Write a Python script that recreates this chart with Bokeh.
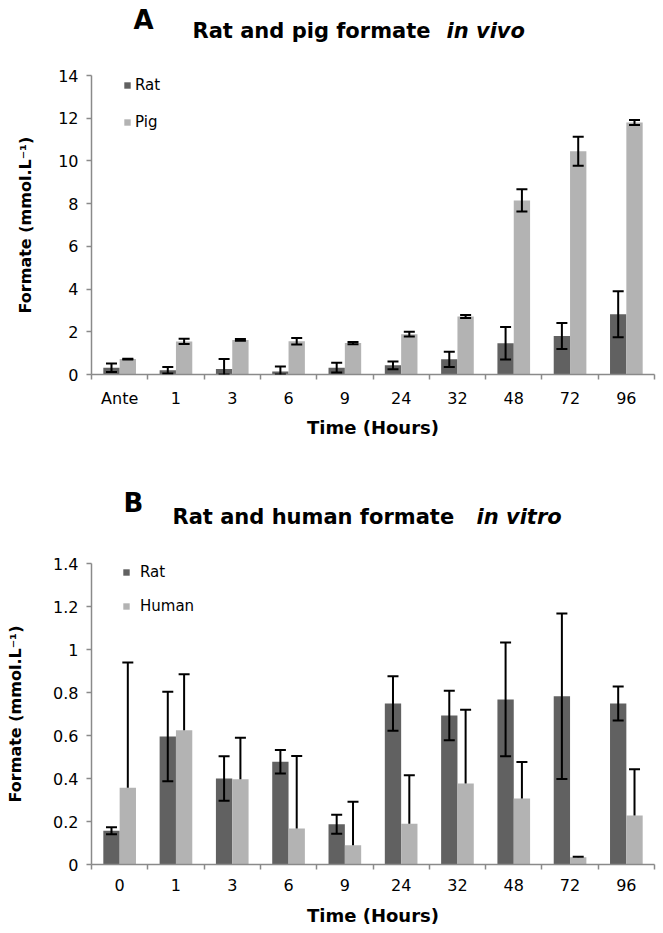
from bokeh.plotting import figure
from bokeh.models import (ColumnDataSource, Whisker, TeeHead, Legend, LegendItem,
                          Label, FixedTicker, Range1d)
from bokeh.layouts import column
from bokeh.embed import file_html
from bokeh.resources import INLINE

# ---------------- Panel A data (in vivo) ----------------
cats_a = ["Ante", "1", "3", "6", "9", "24", "32", "48", "72", "96"]
rat_a = [0.32, 0.20, 0.26, 0.14, 0.32, 0.43, 0.71, 1.46, 1.80, 2.82]
rat_a_err = [0.20, 0.15, 0.46, 0.23, 0.23, 0.18, 0.36, 0.76, 0.61, 1.08]
pig_a = [0.72, 1.55, 1.62, 1.56, 1.47, 1.89, 2.72, 8.15, 10.45, 11.80]
pig_a_err = [0.02, 0.12, 0.04, 0.15, 0.05, 0.11, 0.07, 0.52, 0.68, 0.12]
yticks_a = [0, 2, 4, 6, 8, 10, 12, 14]
ylabels_a = ["0", "2", "4", "6", "8", "10", "12", "14"]

# ---------------- Panel B data (in vitro) ----------------
cats_b = ["0", "1", "3", "6", "9", "24", "32", "48", "72", "96"]
rat_b = [0.157, 0.595, 0.400, 0.478, 0.187, 0.749, 0.693, 0.768, 0.783, 0.749]
rat_b_err = [0.016, 0.208, 0.104, 0.055, 0.044, 0.127, 0.115, 0.265, 0.385, 0.079]
human_b = [0.357, 0.625, 0.396, 0.168, 0.089, 0.189, 0.377, 0.307, 0.034, 0.228]
human_b_err = [0.583, 0.260, 0.193, 0.337, 0.203, 0.226, 0.343, 0.170, 0.002, 0.215]
yticks_b = [0, 0.2, 0.4, 0.6, 0.8, 1.0, 1.2, 1.4]
ylabels_b = ["0", "0.2", "0.4", "0.6", "0.8", "1", "1.2", "1.4"]

DARK = "#616161"
LIGHT = "#b3b3b3"
AXIS = "#8a8a8a"
BAR_W = 0.29
TICK_FONT = "DejaVu Sans"
BOLD_FONT = "DejaVu Sans"
FIG_W = 660


def make_header(height, letter, title, title_it, letter_pos, title_pos, it_pos):
    h = figure(width=FIG_W, height=height, x_range=Range1d(0, 1), y_range=Range1d(0, 1),
               output_backend="svg", toolbar_location=None,
               x_axis_location=None, y_axis_location=None,
               min_border=0, min_border_left=0, min_border_right=0,
               min_border_top=0, min_border_bottom=0)
    h.outline_line_color = None
    h.xgrid.grid_line_color = None
    h.ygrid.grid_line_color = None
    h.add_layout(Label(x=letter_pos[0], y=letter_pos[1], x_units="screen", y_units="screen",
                       text=letter, text_font=BOLD_FONT, text_font_style="bold",
                       text_font_size="26px", text_color="black", text_baseline="alphabetic"))
    h.add_layout(Label(x=title_pos[0], y=title_pos[1], x_units="screen", y_units="screen",
                       text=title, text_font=BOLD_FONT, text_font_style="bold",
                       text_font_size="21px", text_color="black", text_baseline="alphabetic"))
    h.add_layout(Label(x=it_pos[0], y=it_pos[1], x_units="screen", y_units="screen",
                       text=title_it, text_font=BOLD_FONT, text_font_style="bold italic",
                       text_font_size="21px", text_color="black", text_baseline="alphabetic"))
    return h


def make_panel(cats, dark_vals, dark_err, light_vals, light_err, light_plus_only,
               yticks, ylabels, ymax, dark_name, light_name,
               height, b_left, b_right, b_top, b_bottom, ylab_standoff, xlab_standoff,
               legend_loc, legend_spacing, legend_lh, legend_standoff):
    n = len(cats)
    centers = [i + 0.5 for i in range(n)]
    p = figure(width=FIG_W, height=height, x_range=Range1d(0, n), y_range=Range1d(0, ymax),
               output_backend="svg", toolbar_location=None,
               min_border_left=b_left, min_border_right=b_right,
               min_border_top=b_top, min_border_bottom=b_bottom)
    p.outline_line_color = None
    p.xgrid.grid_line_color = None
    p.ygrid.grid_line_color = None
    p.background_fill_color = "white"
    p.border_fill_color = "white"

    dx = [c - BAR_W / 2 for c in centers]
    lx = [c + BAR_W / 2 for c in centers]
    src_d = ColumnDataSource(dict(x=dx, top=dark_vals,
                                  lower=[max(0.0, v - e) for v, e in zip(dark_vals, dark_err)],
                                  upper=[v + e for v, e in zip(dark_vals, dark_err)]))
    if light_plus_only:
        lo = list(light_vals)
    else:
        lo = [max(0.0, v - e) for v, e in zip(light_vals, light_err)]
    src_l = ColumnDataSource(dict(x=lx, top=light_vals, lower=lo,
                                  upper=[v + e for v, e in zip(light_vals, light_err)]))

    r_d = p.vbar(x="x", top="top", width=BAR_W, source=src_d, fill_color=DARK, line_color=None)
    r_l = p.vbar(x="x", top="top", width=BAR_W, source=src_l, fill_color=LIGHT, line_color=None)

    for src, plus_only in ((src_d, False), (src_l, light_plus_only)):
        w = Whisker(source=src, base="x", lower="lower", upper="upper", dimension="height",
                    level="overlay", line_color="black", line_width=2,
                    upper_head=TeeHead(size=11, line_color="black", line_width=2),
                    lower_head=None if plus_only else TeeHead(size=11, line_color="black", line_width=2))
        p.add_layout(w)

    # x axis: labels at category centres, tick marks at category boundaries
    p.xaxis.ticker = FixedTicker(ticks=centers, minor_ticks=list(range(n + 1)))
    p.xaxis.major_label_overrides = {c: lab for c, lab in zip(centers, cats)}
    p.xaxis.major_tick_line_color = None
    p.xaxis.major_tick_out = 5
    p.xaxis.major_tick_in = 0
    p.xaxis.minor_tick_line_color = AXIS
    p.xaxis.minor_tick_out = 5
    p.xaxis.minor_tick_in = 0
    p.xaxis.minor_tick_line_width = 1.5
    p.xaxis.axis_line_color = AXIS
    p.xaxis.axis_line_width = 1.5
    p.xaxis.major_label_standoff = 9
    p.xaxis.major_label_text_font = TICK_FONT
    p.xaxis.major_label_text_font_size = "16px"
    p.xaxis.major_label_text_color = "black"
    p.xaxis.axis_label = "Time (Hours)"
    p.xaxis.axis_label_text_font = BOLD_FONT
    p.xaxis.axis_label_text_font_style = "bold"
    p.xaxis.axis_label_text_font_size = "18px"
    p.xaxis.axis_label_text_color = "black"
    p.xaxis.axis_label_standoff = xlab_standoff

    # y axis
    p.yaxis.ticker = FixedTicker(ticks=yticks, minor_ticks=[])
    p.yaxis.major_label_overrides = {t: lab for t, lab in zip(yticks, ylabels)}
    p.yaxis.major_tick_line_color = AXIS
    p.yaxis.major_tick_line_width = 1.5
    p.yaxis.major_tick_out = 5
    p.yaxis.major_tick_in = 0
    p.yaxis.minor_tick_line_color = None
    p.yaxis.axis_line_color = AXIS
    p.yaxis.axis_line_width = 1.5
    p.yaxis.major_label_standoff = 8
    p.yaxis.major_label_text_font = TICK_FONT
    p.yaxis.major_label_text_font_size = "16px"
    p.yaxis.major_label_text_color = "black"
    p.yaxis.axis_label = "Formate (mmol.L\u207b\u00b9)"
    p.yaxis.axis_label_text_font = BOLD_FONT
    p.yaxis.axis_label_text_font_style = "bold"
    p.yaxis.axis_label_text_font_size = "16px"
    p.yaxis.axis_label_text_color = "black"
    p.yaxis.axis_label_standoff = ylab_standoff

    legend = Legend(items=[LegendItem(label=dark_name, renderers=[r_d]),
                           LegendItem(label=light_name, renderers=[r_l])],
                    location=legend_loc, orientation="vertical",
                    border_line_color=None, background_fill_alpha=0,
                    padding=0, margin=0, spacing=legend_spacing,
                    glyph_width=8, glyph_height=8, label_height=legend_lh,
                    label_standoff=legend_standoff,
                    label_text_font=TICK_FONT, label_text_font_size="15px",
                    label_text_color="black")
    p.add_layout(legend)
    return p


ha = make_header(50, "A", "Rat and pig formate", "in vivo",
                 letter_pos=(42, 31), title_pos=(101, 20), it_pos=(355, 20))

pa = make_panel(cats_a, rat_a, rat_a_err, pig_a, pig_a_err, False,
                yticks_a, ylabels_a, 14, "Rat", "Pig",
                height=390, b_left=91, b_right=4, b_top=25, b_bottom=63,
                ylab_standoff=20, xlab_standoff=6,
                legend_loc=(32, 243), legend_spacing=19, legend_lh=18, legend_standoff=4)

hb = make_header(95, "B", "Rat and human formate", "in vitro",
                 letter_pos=(32, 33), title_pos=(81, 19), it_pos=(385, 19))

pb = make_panel(cats_b, rat_b, rat_b_err, human_b, human_b_err, True,
                yticks_b, ylabels_b, 1.4, "Rat", "Human",
                height=397, b_left=89, b_right=6, b_top=28, b_bottom=68,
                ylab_standoff=25, xlab_standoff=11,
                legend_loc=(31, 249), legend_spacing=16, legend_lh=14, legend_standoff=10)

layout = column(ha, pa, hb, pb, spacing=0)
open("out.html", "w").write(file_html(layout, INLINE))
